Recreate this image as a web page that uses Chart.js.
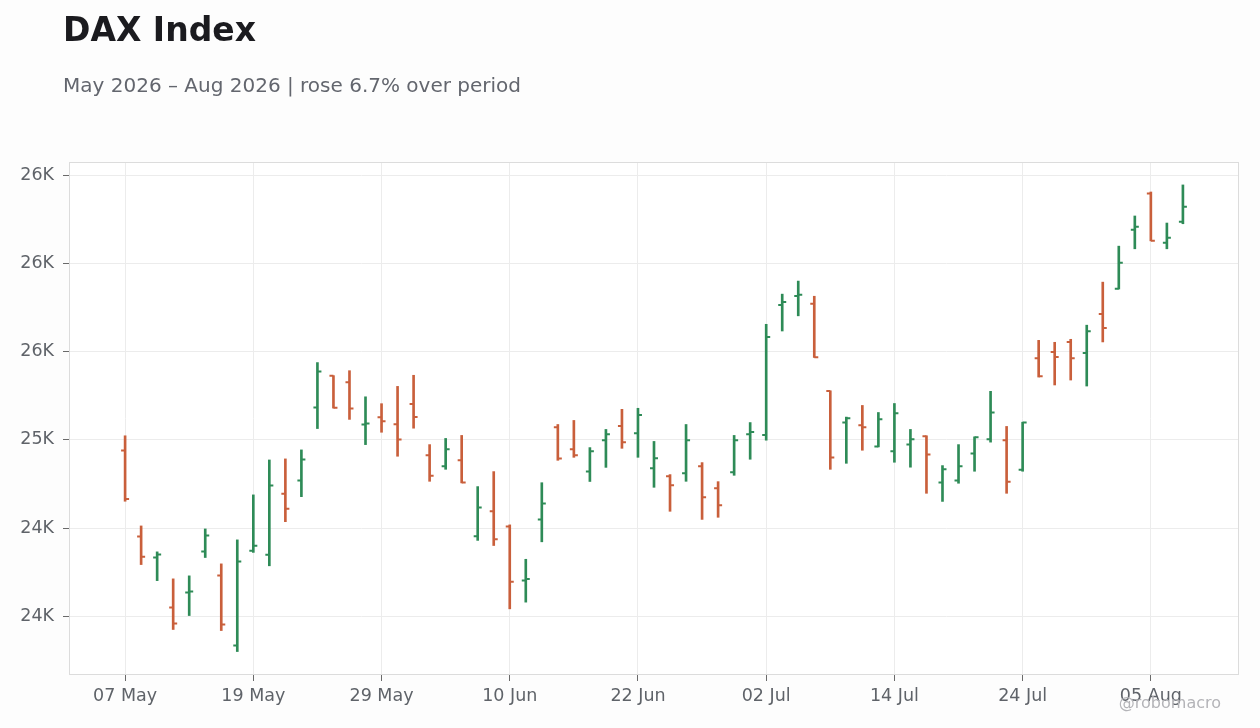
<!DOCTYPE html>
<html>
<head>
<meta charset="utf-8">
<script src="https://cdn.jsdelivr.net/npm/chart.js@4.4.1/dist/chart.umd.min.js"></script>
<style>
  html, body { margin: 0; padding: 0; background: #fdfdfd; }
  #wrap { position: relative; width: 1260px; height: 728px; overflow: hidden; font-family: "DejaVu Sans", sans-serif; }
  #title { position: absolute; left: 63px; top: 11px; font-size: 33px; font-weight: bold; color: #1b1b1f; line-height: 1.164; white-space: nowrap; }
  #subtitle { position: absolute; left: 63px; top: 74px; font-size: 20px; color: #63666e; line-height: 1.164; white-space: nowrap; }
  #mark { position: absolute; right: 39px; top: 694px; font-size: 16px; color: #b4b4b8; line-height: 1.164; white-space: nowrap; }
  canvas { position: absolute; left: 0; top: 0; }
</style>
</head>
<body>
<div id="wrap">
  <canvas id="c" width="1260" height="728"></canvas>
  <div id="title">DAX Index</div>
  <div id="subtitle">May 2026 – Aug 2026 | rose 6.7% over period</div>
  <div id="mark">@robomacro</div>
</div>
<script>
// ---- data ----
const dates = [
  '2026-05-07','2026-05-08','2026-05-11','2026-05-12','2026-05-13','2026-05-14','2026-05-15',
  '2026-05-18','2026-05-19','2026-05-20','2026-05-21','2026-05-22',
  '2026-05-25','2026-05-26','2026-05-27','2026-05-28','2026-05-29',
  '2026-06-01','2026-06-02','2026-06-03','2026-06-04','2026-06-05',
  '2026-06-08','2026-06-09','2026-06-10','2026-06-11','2026-06-12',
  '2026-06-15','2026-06-16','2026-06-17','2026-06-18','2026-06-19',
  '2026-06-22','2026-06-23','2026-06-24','2026-06-25','2026-06-26',
  '2026-06-29','2026-06-30','2026-07-01','2026-07-02','2026-07-03',
  '2026-07-06','2026-07-07','2026-07-08','2026-07-09','2026-07-10',
  '2026-07-13','2026-07-14','2026-07-15','2026-07-16','2026-07-17',
  '2026-07-20','2026-07-21','2026-07-22','2026-07-23','2026-07-24',
  '2026-07-27','2026-07-28','2026-07-29','2026-07-30','2026-07-31',
  '2026-08-03','2026-08-04','2026-08-05','2026-08-06','2026-08-07'
];
const openVals = [
  24940,24452,24333,24049,24134,24367,24231,23834,24372,24348,24695,24769,
  25184,25363,25326,25087,25128,25089,25203,24913,24850,24884,24453,24595,
  24509,24203,24548,25072,24947,24821,24998,25078,25038,24839,24794,24811,
  24850,24725,24816,25032,25027,25765,25816,25771,25277,25098,25083,24962,
  24936,24973,25021,24758,24769,24922,25004,24998,24831,25462,25498,25555,
  25492,25714,25856,26191,26396,26117,26237
];
const highVals = [
  25023,24512,24365,24212,24229,24495,24297,24433,24688,24886,24892,24943,
  25438,25364,25392,25244,25205,25303,25366,24973,25008,25025,24735,24820,
  24518,24323,24757,25087,25110,24956,25059,25173,25179,24991,24803,25087,
  24871,24763,25025,25098,25655,25826,25900,25814,25278,25129,25195,25155,
  25206,25059,25023,24854,24973,25017,25275,25076,25100,25564,25553,25570,
  25650,25894,26098,26269,26405,26229,26445
];
const lowVals = [
  24652,24293,24202,23925,24004,24333,23919,23800,24362,24286,24536,24678,
  25064,25180,25116,24973,25043,24907,25066,24765,24833,24756,24430,24401,
  24042,24080,24422,24884,24901,24764,24844,24952,24901,24731,24595,24765,
  24549,24561,24799,24890,24998,25617,25703,25467,24833,24867,24941,24960,
  24873,24845,24697,24651,24754,24822,24987,24697,24822,25356,25311,25339,
  25305,25555,25855,26083,26128,26083,26225
];
const closeVals = [
  24665,24338,24350,23959,24140,24458,23953,24310,24400,24741,24610,24888,
  25388,25182,25178,25093,25105,25002,25129,24797,24947,24758,24617,24436,
  24195,24211,24639,24894,24913,24935,25032,24987,25141,24896,24742,24998,
  24674,24629,24998,25044,25583,25782,25822,25468,24900,25123,25072,25117,
  25151,25004,24917,24833,24850,25015,25155,24763,25098,25360,25470,25462,
  25616,25634,26004,26208,26129,26146,26322
];
const xTickIdx = [0, 8, 16, 24, 32, 40, 48, 56, 64];
const yTickVals = [24000, 24500, 25000, 25500, 26000, 26500];

const UP = '#2e8b57';
const DOWN = '#c95f3b';
const months = ['Jan','Feb','Mar','Apr','May','Jun','Jul','Aug','Sep','Oct','Nov','Dec'];
function dateLabel(s) {
  const p = s.split('-');
  return p[2] + ' ' + months[parseInt(p[1], 10) - 1];
}
function fmtK(v) {
  const k = v / 1000;
  const f = Math.floor(k);
  let r;
  if (Math.abs(k - f - 0.5) < 1e-9) r = (f % 2 === 0) ? f : f + 1;
  else r = Math.round(k);
  return r + 'K';
}

const colors = closeVals.map((c, i) => c >= openVals[i] ? UP : DOWN);
const rangeData = dates.map((d, i) => ({ x: i, y: [lowVals[i], highVals[i]] }));

const framePlugin = {
  id: 'frame',
  beforeDraw(chart) {
    const { ctx, chartArea: a } = chart;
    ctx.save();
    ctx.fillStyle = '#ffffff';
    ctx.fillRect(a.left, a.top, a.right - a.left, a.bottom - a.top);
    ctx.restore();
  },
  beforeDatasetsDraw(chart) {
    const { ctx, chartArea: a } = chart;
    ctx.save();
    ctx.strokeStyle = '#dcdcdc';
    ctx.lineWidth = 1;
    ctx.strokeRect(Math.round(a.left) + 0.5, Math.round(a.top) + 0.5,
                   Math.round(a.right - a.left) - 1, Math.round(a.bottom - a.top) - 1);
    ctx.restore();
  }
};

const ocPlugin = {
  id: 'openClose',
  afterDatasetsDraw(chart) {
    const { ctx } = chart;
    const xs = chart.scales.x, ys = chart.scales.y;
    ctx.save();
    ctx.lineWidth = 2;
    for (let i = 0; i < dates.length; i++) {
      const x = xs.getPixelForValue(i);
      const yo = ys.getPixelForValue(openVals[i]);
      const yc = ys.getPixelForValue(closeVals[i]);
      ctx.strokeStyle = colors[i];
      ctx.beginPath();
      ctx.moveTo(x - 4, yo);
      ctx.lineTo(x, yo);
      ctx.moveTo(x, yc);
      ctx.lineTo(x + 4, yc);
      ctx.stroke();
    }
    ctx.restore();
  }
};

const tickFont = { family: 'DejaVu Sans', size: 17.5 };

new Chart(document.getElementById('c'), {
  type: 'bar',
  data: {
    datasets: [{
      data: rangeData,
      backgroundColor: colors,
      borderWidth: 0,
      barThickness: 2,
      borderSkipped: false,
      grouped: false
    }]
  },
  options: {
    responsive: false,
    animation: false,
    events: [],
    layout: { padding: { left: 0, right: 21, top: 162, bottom: 0 } },
    plugins: { legend: { display: false }, tooltip: { enabled: false }, title: { display: false } },
    scales: {
      x: {
        type: 'linear',
        min: -3.5,
        max: 69.5,
        offset: false,
        afterBuildTicks(s) { s.ticks = xTickIdx.map(v => ({ value: v })); },
        afterFit(s) { s.height = 53; },
        grid: { offset: false, color: '#ececec', lineWidth: 1, tickLength: 6, tickColor: '#6a6a6a', drawTicks: true },
        border: { display: false },
        ticks: {
          autoSkip: false, maxRotation: 0, padding: 5,
          color: '#5f6369', font: tickFont,
          callback: (v) => dateLabel(dates[v])
        }
      },
      y: {
        type: 'linear',
        min: 23667,
        max: 26575,
        afterBuildTicks(s) { s.ticks = yTickVals.map(v => ({ value: v })); },
        afterFit(s) { s.width = 69; },
        grid: { color: '#ececec', lineWidth: 1, tickLength: 6, tickColor: '#6a6a6a', drawTicks: true },
        border: { display: false },
        ticks: {
          padding: 9,
          color: '#5f6369', font: tickFont,
          callback: (v) => fmtK(v)
        }
      }
    }
  },
  plugins: [framePlugin, ocPlugin]
});
</script>
</body>
</html>
